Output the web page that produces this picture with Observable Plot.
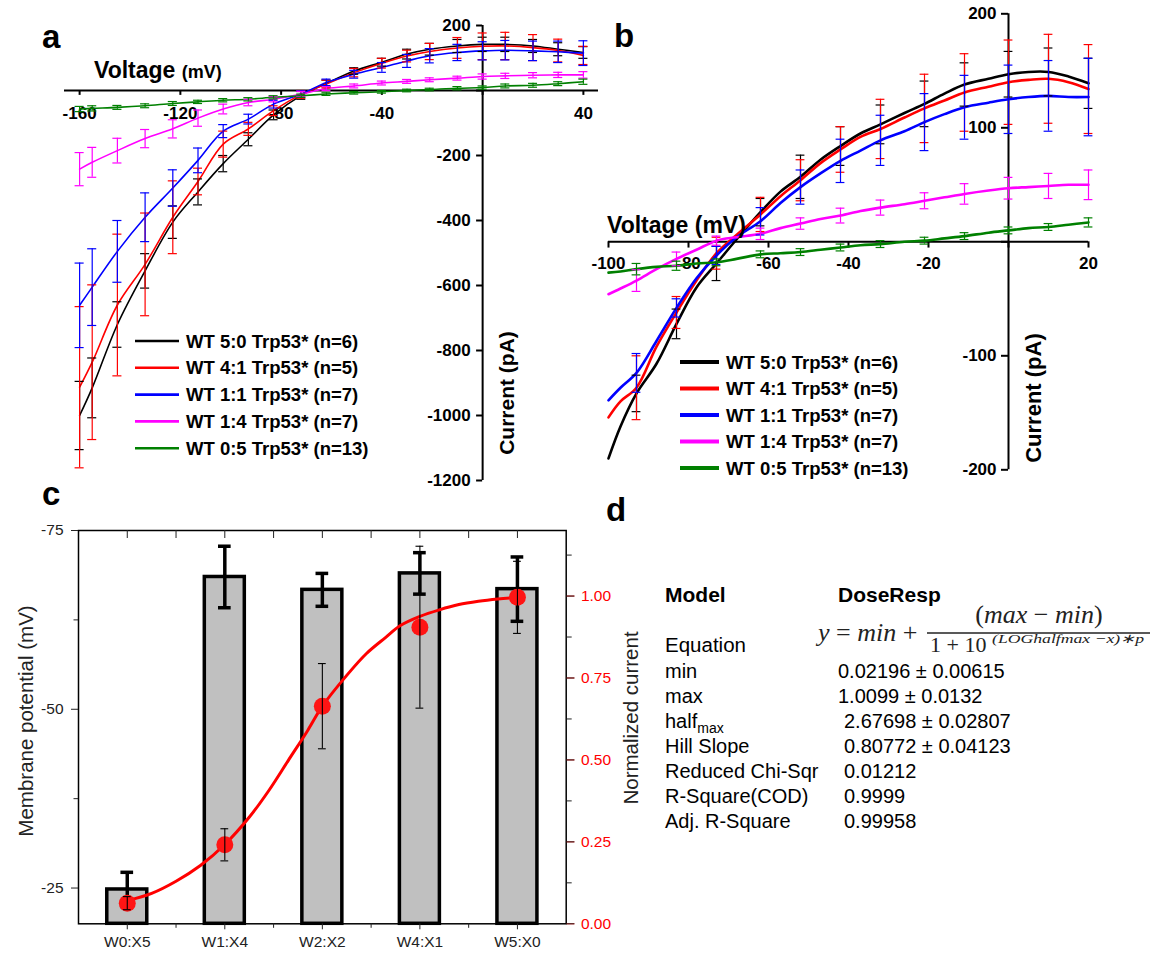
<!DOCTYPE html>
<html><head><meta charset="utf-8">
<script src="https://cdn.jsdelivr.net/npm/d3@7"></script>
<script src="https://cdn.jsdelivr.net/npm/@observablehq/plot@0.6"></script>
<style>
body{margin:0;background:#fff;}
#fig{position:relative;width:1154px;height:953px;overflow:hidden;background:#fff;font-family:"Liberation Sans",Arial,sans-serif;}
</style></head>
<body><div id="fig"></div>
<script>
// ---------------- DATA ----------------
const seriesNames = ["WT 5:0 Trp53* (n=6)", "WT 4:1 Trp53* (n=5)", "WT 1:1 Trp53* (n=7)", "WT 1:4 Trp53* (n=7)", "WT 0:5 Trp53* (n=13)"];

// Panel a (wide range I-V)
const aVoltage = [-160,-155,-145,-134,-123,-113,-103,-93,-83,-72,-62,-51,-40,-30,-21,-10,0,9,20,30,40];
const aWT50 = [-1000,-915,-720,-555,-405,-312,-225,-150,-75,-15,22,60,87,112,127,137,142,142,137,127,117];
const aWT41 = [-913,-836,-660,-535,-390,-280,-165,-118,-62,-12,20,55,84,106,120,131,136,137,132,123,108];
const aWT11 = [-661,-605,-495,-390,-300,-215,-125,-88,-42,-11,25,50,71,91,107,117,122,124,122,119,115];
const aWT14 = [-242,-221,-185,-148,-118,-85,-57,-37,-27,-11,6,14,23,28,33,38,43,45,47,48,48];
const aWT05 = [-57,-55,-52,-47,-40,-35,-30,-27,-21,-16,-11,-7,-4,0,3,7,9,14,16,21,27];
const aErr50 = [105,92,70,53,50,40,25,20,15,12,10,10,12,15,18,20,22,22,20,20,18];
const aErr41 = [248,238,218,158,112,41,40,20,15,12,12,13,15,18,25,32,41,42,40,35,28];
const aErr11 = [130,118,95,75,56,38,20,15,12,10,10,12,15,20,22,25,28,30,30,33,38];
const aErr14 = [51,46,38,28,28,25,15,10,8,8,6,6,6,6,6,6,8,8,8,8,10];
const aErr05 = [8,8,6,6,6,5,5,5,5,5,4,4,4,4,4,5,5,6,6,6,8];
const aXTicks = [-160,-120,-80,-40,0,40];
const aYTicks = [200,0,-200,-400,-600,-800,-1000,-1200];

// Panel b (zoomed I-V)
const bVoltage = [-100,-97,-93,-88,-83,-78,-73,-68,-62,-57,-52,-47,-42,-37,-32,-26,-21,-16,-11,-5,0,5,10,15,20];
const bWT50 = [-190,-162,-133,-107,-72,-40,-19,2,26,44,57,72,84,95,103,113,121,130,138,143,147,149,149,145,139];
const bWT41 = [-154,-140,-128,-92,-62,-34,-10,6,24,40,54,69,81,92,99,109,117,124,131,136,140,142,143,140,134];
const bWT11 = [-139,-128,-115,-87,-58,-32,-12,4,18,34,48,60,71,80,89,97,105,112,118,122,125,127,128,127,127];
const bWT14 = [-46,-41,-34,-24,-15,-7,1,4,7,12,16,20,23,27,30,33,36,39,42,45,47,48,49,50,50];
const bWT05 = [-27,-26,-24,-22,-21,-19,-18,-15,-11,-10,-9,-7,-5,-3,-2,0,1,3,5,8,10,12,13,15,17];
const bErrVoltage = [-93,-83,-73,-62,-52,-42,-32,-21,-11,0,10,20];
const bErr50 = [16,13,15,12,19,17,17,20,19,20,21,22];
const bErr41 = [28,14,14,15,18,20,26,30,34,37,39,39];
const bErr11 = [17,8,8,12,15,19,22,25,28,30,31,34];
const bErr14 = [9.5,6,4,5,5,6.5,6.6,7,9,9.5,11,13];
const bErr05 = [5,4,3,3,3,3,3,3,3,3,3,4];
const bXTicks = [-100,-80,-60,-40,-20,0,20];
const bYTicks = [200,100,0,-100,-200];

// Panel c
const cGroups = ["W0:X5","W1:X4","W2:X2","W4:X1","W5:X0"];
const cPotential = [-24.8,-68.5,-66.7,-69.0,-66.8];
const cPotentialErr = [2.4,4.3,2.3,2.9,4.5];
const cNormCurrent = [0.063,0.241,0.664,0.905,0.996];
const cNormErr = [0.02,0.049,0.13,0.247,0.11];
const cFitPos = [0,0.25,0.5,0.75,1.0,1.25,1.45,1.65,1.85,2.0,2.25,2.45,2.65,2.8,3.0,3.2,3.4,3.6,3.8,4.0];
const cFitValue = [0.071,0.093,0.130,0.178,0.242,0.325,0.406,0.498,0.590,0.664,0.758,0.824,0.874,0.910,0.938,0.958,0.974,0.984,0.991,0.996];
const cLeftTicks = [-75,-50,-25];
const cLeftMinor = [-62.5,-37.5];
const cRightTicks = [0,0.25,0.5,0.75,1.0];
const cRightMinor = [0.125,0.375,0.625,0.875,1.125];
const cTopTicks = [0,0.5,1,1.5,2,2.5,3,3.5,4];

// Panel d
const dLabels = ["min","max","half","Hill Slope","Reduced Chi-Sqr","R-Square(COD)","Adj. R-Square"];
const dValues = ["0.02196 ± 0.00615","1.0099 ± 0.0132","2.67698 ± 0.02807","0.80772 ± 0.04123","0.01212","0.9999","0.99958"];

// ---------------- STYLE ----------------
const seriesColors = ["#000000","#ff0000","#0000ff","#ff00ff","#008000"];
const FONT = "'Liberation Sans', Arial, sans-serif";
const fig = document.getElementById("fig");
function place(el, left, top){ el.style.position="absolute"; el.style.left=left+"px"; el.style.top=top+"px"; el.style.maxWidth="none"; fig.appendChild(el); }

function ivPanel(o){
  const lines = [], errs = [];
  o.series.forEach((vals,k)=>vals.forEach((I,j)=>lines.push({v:o.volt[j], I, k})));
  o.errs.forEach((arr,k)=>arr.forEach((e,j)=>{
    const v = o.errV[j]; const m = o.series[k][o.volt.indexOf(v)];
    errs.push({v, lo:m-e, hi:m+e, k});
  }));
  const marks = [
    Plot.ruleY([0],{stroke:"#000",strokeWidth:2}),
    Plot.ruleX([0],{stroke:"#000",strokeWidth:2}),
    Plot.ruleX(o.xTicks,{x:d=>d, y1:()=>0, y2:()=>-o.tickLenY, stroke:"#000", strokeWidth:2}),
    Plot.ruleY(o.yTicks,{y:d=>d, x1:()=>0, x2:()=>-o.tickLenX, stroke:"#000", strokeWidth:2}),
    Plot.text(o.xTicks.filter(d=>d!==0),{x:d=>d, y:()=>0, dy:o.xLabelDy, text:d=>String(d), fontSize:17, fontWeight:"bold", fill:"#000"}),
    Plot.text(o.yTicks.filter(d=>d!==0),{x:()=>0, y:d=>d, dx:-12, textAnchor:"end", text:d=>String(d), fontSize:17, fontWeight:"bold", fill:"#000"})
  ];
  seriesColors.forEach((c,k)=>marks.push(Plot.line(lines.filter(r=>r.k===k),{x:"v", y:"I", stroke:c, strokeWidth:o.lineW, curve:"catmull-rom"})));
  seriesColors.forEach((c,k)=>{
    const rows = errs.filter(r=>r.k===k);
    marks.push(Plot.ruleX(rows,{x:"v", y1:"lo", y2:"hi", stroke:c, strokeWidth:1.2}));
    marks.push(Plot.ruleY(rows,{y:"lo", x1:r=>r.v-o.cap, x2:r=>r.v+o.cap, stroke:c, strokeWidth:1.2}));
    marks.push(Plot.ruleY(rows,{y:"hi", x1:r=>r.v-o.cap, x2:r=>r.v+o.cap, stroke:c, strokeWidth:1.2}));
  });
  return Plot.plot({
    width:o.width, height:o.height,
    marginLeft:o.ml, marginRight:o.mr, marginTop:o.mt, marginBottom:o.mb,
    x:{domain:o.xDomain, axis:null}, y:{domain:o.yDomain, axis:null},
    style:{fontFamily:FONT, overflow:"visible", background:"transparent"},
    marks
  });
}

// Panel a
place(ivPanel({
  width:600, height:500, ml:64, mr:2, mt:25, mb:20,
  xDomain:[-166,46], yDomain:[-1200,200],
  volt:aVoltage, series:[aWT50,aWT41,aWT11,aWT14,aWT05],
  errV:aVoltage, errs:[aErr50,aErr41,aErr11,aErr14,aErr05],
  xTicks:aXTicks, yTicks:aYTicks, tickLenY:15, tickLenX:2.4, xLabelDy:23,
  lineW:1.6, cap:1.8
}), 0, 0);

// Panel b
place(ivPanel({
  width:564, height:500, ml:18, mr:66, mt:13.3, mb:30.7,
  xDomain:[-100,20], yDomain:[-200,200],
  volt:bVoltage, series:[bWT50,bWT41,bWT11,bWT14,bWT05],
  errV:bErrVoltage, errs:[bErr50,bErr41,bErr11,bErr14,bErr05],
  xTicks:bXTicks, yTicks:bYTicks, tickLenY:5.5, tickLenX:1.75, xLabelDy:22,
  lineW:2.6, cap:1.1
}), 590, 0);

// Panel c
const cRows = cGroups.map((g,i)=>({i, g, pot:cPotential[i], perr:cPotentialErr[i], norm:cNormCurrent[i], nerr:cNormErr[i]}));
const cFit = cFitPos.map((x,j)=>({x, y:cFitValue[j]}));
const halfBar = 0.205, capBar = 0.065, capNorm = 0.04;
const cGeom = {width:600, height:453, marginLeft:78, marginRight:34.3, marginTop:30, marginBottom:29.7};
const cStyle = {fontFamily:FONT, overflow:"visible", background:"transparent"};
const blank = ()=>"";
const topTickLen = 8 * 55 / 393.3; // 8px in mV units

place(Plot.plot({
  ...cGeom, style:cStyle,
  x:{domain:[-0.5,4.5], axis:null}, y:{domain:[-20,-75], axis:null},
  marks:[
    Plot.rect(cRows,{x1:d=>d.i-halfBar, x2:d=>d.i+halfBar, y1:()=>-20, y2:"pot", fill:"#c0c0c0", stroke:"#000", strokeWidth:3.5}),
    Plot.ruleX(cRows,{x:"i", y1:d=>d.pot-d.perr, y2:d=>d.pot+d.perr, stroke:"#000", strokeWidth:3.5}),
    Plot.ruleY(cRows,{y:d=>d.pot-d.perr, x1:d=>d.i-capBar, x2:d=>d.i+capBar, stroke:"#000", strokeWidth:3.5}),
    Plot.ruleY(cRows,{y:d=>d.pot+d.perr, x1:d=>d.i-capBar, x2:d=>d.i+capBar, stroke:"#000", strokeWidth:3.5}),
    Plot.frame({stroke:"#000", strokeWidth:1.5}),
    Plot.ruleX(cTopTicks,{x:d=>d, y1:()=>-75, y2:()=>-75+topTickLen, stroke:"#222", strokeWidth:1}),
    Plot.axisY(cLeftTicks,{anchor:"left", label:null, tickSize:7, tickPadding:8, tickFormat:d=>String(d), fontSize:15.5, color:"#222"}),
    Plot.axisY(cLeftMinor,{anchor:"left", label:null, tickSize:4.5, tickFormat:blank, color:"#222"}),
    Plot.axisX(cRows.map(d=>d.i),{anchor:"bottom", label:null, tickSize:6, tickPadding:6, tickFormat:i=>cGroups[i], fontSize:15.5, color:"#222"}),
    Plot.axisX([0.5,1.5,2.5,3.5],{anchor:"bottom", label:null, tickSize:4.5, tickFormat:blank, color:"#222"})
  ]
}), 0, 500);

place(Plot.plot({
  ...cGeom, style:cStyle,
  x:{domain:[-0.5,4.5], axis:null}, y:{domain:[0,1.2], axis:null},
  marks:[
    Plot.line(cFit,{x:"x", y:"y", stroke:"#ff0000", strokeWidth:3, curve:"catmull-rom"}),
    Plot.dot(cRows,{x:"i", y:"norm", r:8.5, fill:"#ff1414"}),
    Plot.ruleX(cRows,{x:"i", y1:d=>d.norm-d.nerr, y2:d=>d.norm+d.nerr, stroke:"#000", strokeWidth:1.1}),
    Plot.ruleY(cRows,{y:d=>d.norm-d.nerr, x1:d=>d.i-capNorm, x2:d=>d.i+capNorm, stroke:"#000", strokeWidth:1.1}),
    Plot.ruleY(cRows,{y:d=>d.norm+d.nerr, x1:d=>d.i-capNorm, x2:d=>d.i+capNorm, stroke:"#000", strokeWidth:1.1}),
    Plot.axisY(cRightTicks,{anchor:"right", label:null, tickSize:7.7, tickPadding:7, tickFormat:d3.format(".2f"), fontSize:15.5, color:"#ff0000"}),
    Plot.axisY(cRightTicks,{anchor:"right", label:null, tickSize:7.7, tickFormat:blank, color:"#222"}),
    Plot.axisY(cRightMinor,{anchor:"right", label:null, tickSize:5, tickFormat:blank, color:"#222"})
  ]
}), 0, 500);

// ---------------- TEXT OVERLAY (titles, legends, panel d) ----------------
const ov = d3.create("svg").attr("width",1154).attr("height",953)
  .style("position","absolute").style("left","0px").style("top","0px")
  .style("pointer-events","none").style("font-family",FONT);
function T(x,y,s,attrs={}){ const t=ov.append("text").attr("x",x).attr("y",y).text(s); for(const k in attrs) t.attr(k,attrs[k]); return t; }

// panel letters
T(42,48,"a",{"font-size":33,"font-weight":"bold"});
T(614,47,"b",{"font-size":33,"font-weight":"bold"});
T(42,505,"c",{"font-size":33,"font-weight":"bold"});
T(606,521,"d",{"font-size":33,"font-weight":"bold"});

// panel a titles
const va = T(94,78,"",{"font-weight":"bold"});
va.append("tspan").attr("font-size",23).text("Voltage ");
va.append("tspan").attr("font-size",18).text("(mV)");
T(0,0,"Current (pA)",{"font-size":21,"font-weight":"bold","text-anchor":"middle","dominant-baseline":"central","transform":"translate(506,393) rotate(-90)"});

// panel b titles
T(607,233,"Voltage (mV)",{"font-size":23,"font-weight":"bold"});
T(0,0,"Current (pA)",{"font-size":22,"font-weight":"bold","text-anchor":"middle","dominant-baseline":"central","transform":"translate(1033,398) rotate(-90)"});

// legends
function legend(x0,x1,tx,y0,dy,w,fs){
  seriesNames.forEach((name,k)=>{
    const y=y0+k*dy;
    ov.append("line").attr("x1",x0).attr("x2",x1).attr("y1",y).attr("y2",y).attr("stroke",seriesColors[k]).attr("stroke-width",w);
    T(tx,y,name,{"font-size":fs,"font-weight":"bold","dominant-baseline":"central"});
  });
}
legend(135,179,186,341,26.8,2.6,18.5);
legend(680,719,726,362,26.5,4,18.5);

// panel c axis titles
T(0,0,"Membrane potential (mV)",{"font-size":20.5,"fill":"#222","text-anchor":"middle","dominant-baseline":"central","transform":"translate(25,721) rotate(-90)"});
T(0,0,"Normalized current",{"font-size":20.5,"fill":"#222","text-anchor":"middle","dominant-baseline":"central","transform":"translate(630,718) rotate(-90)"});

// panel d
T(665,602,"Model",{"font-size":21,"font-weight":"bold"});
T(838,602,"DoseResp",{"font-size":21,"font-weight":"bold"});
T(665,652,"Equation",{"font-size":20.5});
const SERIF = "'Liberation Serif','Times New Roman',serif";
const eq1 = T(818,641,"",{"font-size":26,"font-family":SERIF,"fill":"#222"});
eq1.append("tspan").attr("font-style","italic").text("y");
eq1.append("tspan").text(" = ");
eq1.append("tspan").attr("font-style","italic").text("min");
eq1.append("tspan").text(" +");
const eq2 = T(1039,623,"",{"font-size":26,"font-family":SERIF,"fill":"#222","text-anchor":"middle"});
eq2.append("tspan").text("(");
eq2.append("tspan").attr("font-style","italic").text("max");
eq2.append("tspan").text(" − ");
eq2.append("tspan").attr("font-style","italic").text("min");
eq2.append("tspan").text(")");
ov.append("line").attr("x1",927).attr("x2",1150).attr("y1",633).attr("y2",633).attr("stroke","#222").attr("stroke-width",1.3);
T(930,652,"1 + 10",{"font-size":22,"font-family":SERIF,"fill":"#222"});
T(992,643,"(LOGhalfmax  −x)∗p",{"font-size":13,"font-family":SERIF,"font-style":"italic","fill":"#222","textLength":152,"lengthAdjust":"spacingAndGlyphs"});

dLabels.forEach((lab,j)=>{
  const y = 678 + j*25;
  const t = T(665,y,lab,{"font-size":20});
  if(lab==="half"){ t.append("tspan").attr("font-size",14).attr("dy",5).text("max"); }
  T(j<2?838:844,y,dValues[j],{"font-size":20});
});

fig.appendChild(ov.node());
</script>
</body></html>
